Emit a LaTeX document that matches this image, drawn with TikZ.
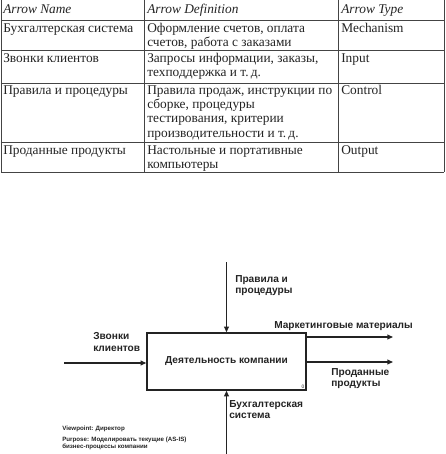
\documentclass[tikz,border=0pt]{standalone}
\usepackage{fontspec}
\setmainfont{Liberation Serif}
\setsansfont{Liberation Sans}
\usetikzlibrary{arrows.meta,positioning,calc}
\definecolor{ink}{RGB}{35,35,35}

\begin{document}
\begin{tikzpicture}[x=0.025cm, y=-0.025cm,
    cell/.style={anchor=north west, inner sep=0pt, align=left,
                 font=\fontsize{9.5}{10.2}\selectfont, text=ink},
    head/.style={cell, font=\fontsize{9.5}{10.2}\selectfont\itshape},
    rule/.style={line width=0.6pt, ink!85},
    func/.style={draw=ink, line width=0.9pt,
                 minimum width=3.98cm, minimum height=1.43cm,
                 font=\sffamily\bfseries\fontsize{7.2}{8.5}\selectfont, text=ink},
    arr/.style={-{Triangle[length=4pt, width=3.4pt]}, line width=0.9pt, ink},
    lbl/.style={anchor=north west, inner sep=0pt, align=left,
                font=\sffamily\bfseries\fontsize{7.2}{8.3}\selectfont, text=ink},
    note/.style={anchor=north west, inner sep=0pt, align=left,
                 font=\sffamily\bfseries\fontsize{4.4}{5.4}\selectfont, text=ink}
  ]
  \useasboundingbox (0,0) rectangle (446,454);

  % table grid
  \foreach \yy in {20,50,83,142,172}
    \draw[rule] (1,\yy) -- (444,\yy);
  \foreach \xx in {1,144,338,444}
    \draw[rule] (\xx,0) -- (\xx,172);

  % table header
  \node[head] (hName) at (3,4) {Arrow Name};
  \node[head] (hDef)  at (147,4) {Arrow Definition};
  \node[head] (hType) at (341,4) {Arrow Type};

  % table rows
  \node[cell] (nMech) at (3,23)  {Бухгалтерская система};
  \node[cell] (dMech) at (147,23) {Оформление счетов, оплата\\счетов, работа с заказами};
  \node[cell] (tMech) at (341,23) {Mechanism};
  \node[cell] (nIn)   at (3,53)  {Звонки клиентов};
  \node[cell] (dIn)   at (147,53) {Запросы информации, заказы,\\техподдержка и т.\,д.};
  \node[cell] (tIn)   at (341,53) {Input};
  \node[cell] (nCtl)  at (3,85)  {Правила и процедуры};
  \node[cell] (dCtl)  at (147,85) {Правила продаж, инструкции по\\сборке, процедуры\\тестирования, критерии\\производительности и т.\,д.};
  \node[cell] (tCtl)  at (341,85) {Control};
  \node[cell] (nOut)  at (3,145) {Проданные продукты};
  \node[cell] (dOut)  at (147,145) {Настольные и портативные\\компьютеры};
  \node[cell] (tOut)  at (341,145) {Output};

  % IDEF0 context diagram
  \node[func] (act) at (226.5,361.5) {Деятельность компании};
  \node[anchor=south east, inner sep=1.5pt, font=\sffamily\fontsize{3.5}{4}\selectfont, text=ink]
    (actNo) at (act.south east) {0};

  \coordinate (ctlEnd) at (226.5,262);
  \coordinate (inEnd) at (64,363);
  \coordinate (outA) at (393,337);
  \coordinate (outB) at (393,362);
  \coordinate (mechEnd) at (226.5,454);

  \draw[arr] (ctlEnd) -- (act.north);
  \draw[arr] (inEnd) -- (inEnd -| act.west);
  \draw[arr] (outA -| act.east) -- (outA);
  \draw[arr] (outB -| act.east) -- (outB);
  \draw[arr] (mechEnd) -- (act.south);

  % arrow labels
  \node[lbl] (ctlLbl)  at (235,275) {Правила и\\процедуры};
  \node[lbl] (inLbl)   at (93,332)  {Звонки\\клиентов};
  \node[lbl] (outALbl) at (274,321) {Маркетинговые материалы};
  \node[lbl] (outBLbl) at (331,368) {Проданные\\продукты};
  \node[lbl] (mechLbl) at (229,400) {Бухгалтерская\\система};

  % viewpoint and purpose
  \node[note] (view) at (62,426) {Viewpoint: Директор};
  \node[note, below=3pt of view.south west, anchor=north west] (purp)
    {Purpose: Моделировать текущие (AS-IS)\\бизнес-процессы компании};
\end{tikzpicture}
\end{document}
